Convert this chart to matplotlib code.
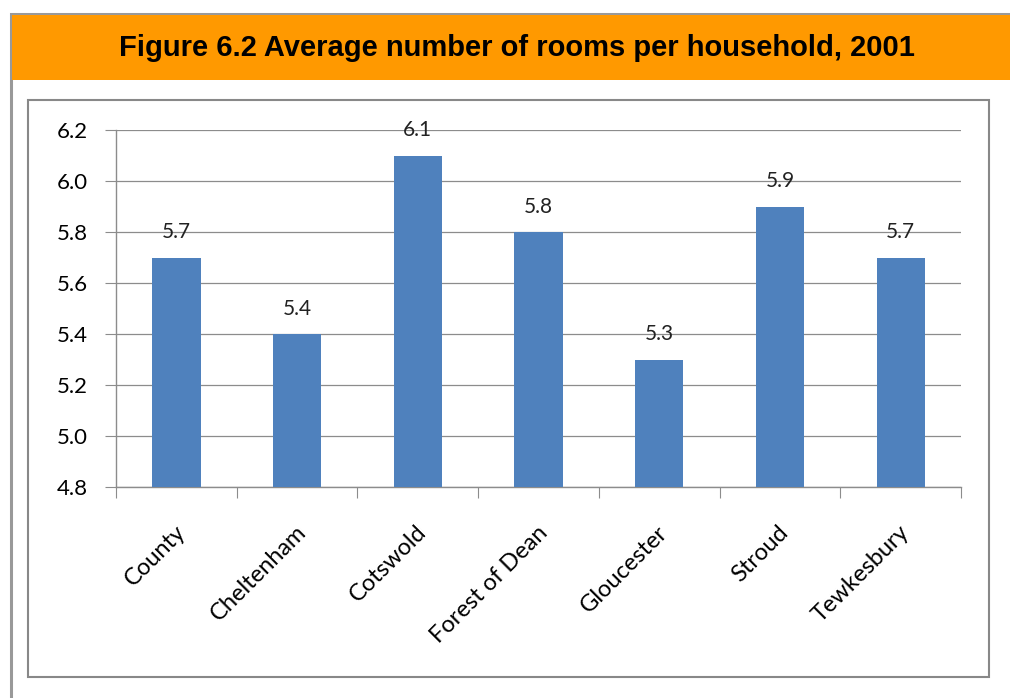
import matplotlib.pyplot as plt
from matplotlib.patches import Rectangle
from matplotlib.transforms import ScaledTranslation

# data
areas = ['County', 'Cheltenham', 'Cotswold', 'Forest of Dean', 'Gloucester', 'Stroud', 'Tewkesbury']
rooms = [5.7, 5.4, 6.1, 5.8, 5.3, 5.9, 5.7]
y_ticks = [4.8, 5.0, 5.2, 5.4, 5.6, 5.8, 6.0, 6.2]
title = 'Figure 6.2 Average number of rooms per household, 2001'

W, H = 1010, 698
fig = plt.figure(figsize=(W / 100, H / 100), dpi=100)
fig.patch.set_facecolor('white')

def fx(px):
    return px / W

def fy(py):
    return 1 - py / H

# outer frame and orange header
fig.patches.append(Rectangle((fx(11), fy(720)), fx(1030) - fx(11), fy(14) - fy(720),
                             transform=fig.transFigure, facecolor='none',
                             edgecolor='#999999', linewidth=2.2, zorder=0))
fig.patches.append(Rectangle((fx(12), fy(80)), fx(1010) - fx(12), fy(15) - fy(80),
                             transform=fig.transFigure, facecolor='#FF9900',
                             edgecolor='none', zorder=1))
fig.text(fx(517), fy(48), title, ha='center', va='center', fontsize=21,
         fontweight='bold', family='Liberation Sans', color='black')

# chart box
fig.patches.append(Rectangle((fx(28), fy(677)), fx(989) - fx(28), fy(100) - fy(677),
                             transform=fig.transFigure, facecolor='white',
                             edgecolor='#888888', linewidth=1.5, zorder=1))

ax = fig.add_axes([fx(116), fy(487), fx(961) - fx(116), fy(130) - fy(487)])
ax.set_zorder(2)
ax.patch.set_alpha(0)

x = list(range(len(areas)))
ax.bar(x, rooms, width=0.4, color='#4F81BD', zorder=3)
ax.set_xlim(-0.5, len(areas) - 0.5)
ax.set_ylim(4.8, 6.2)

for xi, v in zip(x, rooms):
    ax.text(xi, v + 0.06, f'{v:.1f}', ha='center', va='bottom',
            fontsize=15, family='Lato', color='#222222')

ax.set_yticks(y_ticks)
ax.set_yticklabels([f'{t:.1f}' for t in y_ticks], fontsize=16, family='Lato')
ax.grid(axis='y', color='#8c8c8c', linewidth=0.9, zorder=0)

ax.set_xticks([i - 0.5 for i in range(len(areas) + 1)], minor=False)
ax.set_xticklabels([])
ax.set_xticks(x, minor=True)
ax.set_xticklabels(areas, minor=True, rotation=45, ha='right',
                   rotation_mode='anchor', fontsize=17, family='Lato')
ax.tick_params(axis='x', which='minor', length=0, pad=25)
ax.tick_params(axis='x', which='major', length=8, color='#8c8c8c', direction='out')
ax.tick_params(axis='y', length=8, color='#8c8c8c', direction='out', pad=12)
for lbl in ax.get_xticklabels(minor=True):
    lbl.set_transform(lbl.get_transform() + ScaledTranslation(-0.02, 0, fig.dpi_scale_trans))

for s in ['top', 'right']:
    ax.spines[s].set_visible(False)
for s in ['left', 'bottom']:
    ax.spines[s].set_color('#8c8c8c')
    ax.spines[s].set_linewidth(1)

fig.savefig('out.png', dpi=100)
